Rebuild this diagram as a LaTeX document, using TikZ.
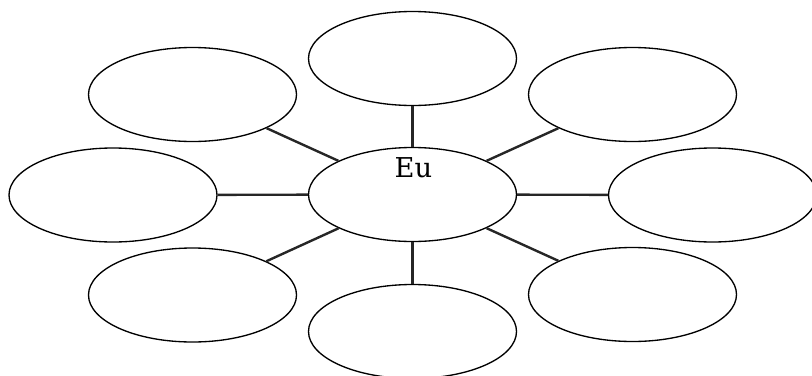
\documentclass[tikz,border=0pt]{standalone}
\usepackage{fontspec}
\setmainfont{DejaVu Serif}
\usetikzlibrary{shapes.geometric}

\tikzset{every picture/.style={line width=0.75pt}}
\tikzset{
  bubble/.style={draw, ellipse, inner sep=0pt, line width=1pt, minimum width=156pt, minimum height=70.5pt},
  spoke/.style={line width=1.8pt, color=black!85}
}

\begin{document}
\begin{tikzpicture}[x=0.75pt,y=0.75pt,yscale=-1,xscale=1]
	%set diagram left start at 0, and has height of 375
	\useasboundingbox (0,0) rectangle (812,375);

	%Shape: Ellipse [id:center] 
	\node [bubble] (me) at (412.5,194.5) {};
	%Shape: Ellipse [id:top] 
	\node [bubble] (top) at (412.5,58.5) {};
	%Shape: Ellipse [id:topleft] 
	\node [bubble] (topleft) at (192.5,94.5) {};
	%Shape: Ellipse [id:topright] 
	\node [bubble] (topright) at (632.5,94.5) {};
	%Shape: Ellipse [id:left] 
	\node [bubble] (left) at (113,195) {};
	%Shape: Ellipse [id:right] 
	\node [bubble] (right) at (712.5,195) {};
	%Shape: Ellipse [id:bottomleft] 
	\node [bubble] (bottomleft) at (192.5,295) {};
	%Shape: Ellipse [id:bottomright] 
	\node [bubble] (bottomright) at (632.5,294.5) {};
	%Shape: Ellipse [id:bottom] 
	\node [bubble] (bottom) at (412.5,331.5) {};

	%Straight Lines
	\draw [spoke] (me) -- (top) ;
	\draw [spoke] (me) -- (topleft) ;
	\draw [spoke] (me) -- (topright) ;
	\draw [spoke] (me) -- (left) ;
	\draw [spoke] (me) -- (right) ;
	\draw [spoke] (me) -- (bottomleft) ;
	\draw [spoke] (me) -- (bottomright) ;
	\draw [spoke] (me) -- (bottom) ;

	% Text Node
	\node [anchor=base][inner sep=0.75pt][font=\fontsize{20.5}{25}\selectfont] (eu) at (413.5,177) {Eu};

\end{tikzpicture}
\end{document}
